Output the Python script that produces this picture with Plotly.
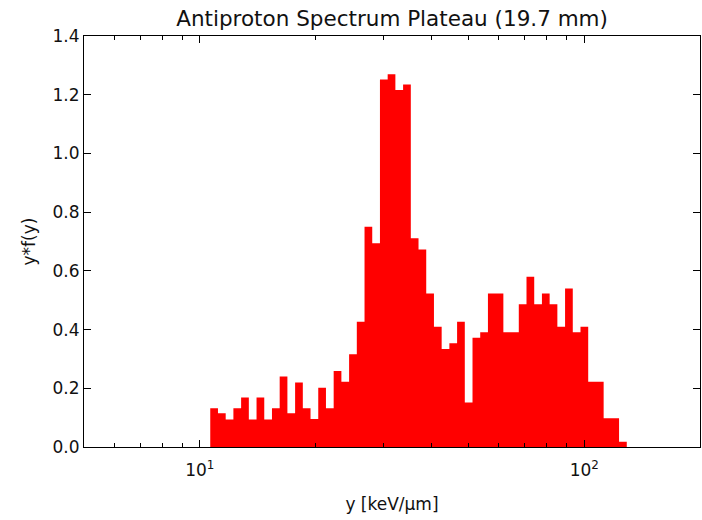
import numpy as np
import plotly.graph_objects as go

# Histogram data (log-spaced bins)
bin_lo = 10.65
bin_hi = 129.0
n_bins = 54
values = [
    0.132, 0.115, 0.094, 0.132, 0.169, 0.094, 0.169, 0.094, 0.132, 0.240,
    0.115, 0.220, 0.132, 0.095, 0.202, 0.132, 0.259, 0.222, 0.316, 0.427,
    0.750, 0.694, 1.252, 1.270, 1.216, 1.235, 0.711, 0.673, 0.523, 0.410,
    0.334, 0.353, 0.427, 0.152, 0.372, 0.391, 0.523, 0.523, 0.391, 0.391,
    0.486, 0.580, 0.486, 0.523, 0.486, 0.410, 0.540, 0.391, 0.410, 0.222,
    0.222, 0.098, 0.098, 0.018,
]
x_tickvals = [10, 100]
x_ticktext = ["10<sup>1</sup>", "10<sup>2</sup>"]
x_minor = [6, 7, 8, 9, 20, 30, 40, 50, 60, 70, 80, 90]
y_ticks = [0.0, 0.2, 0.4, 0.6, 0.8, 1.0, 1.2, 1.4]

edges = np.logspace(np.log10(bin_lo), np.log10(bin_hi), n_bins + 1)
xs = list(edges)
ys = list(values) + [values[-1]]

fig = go.Figure()
fig.add_trace(go.Scatter(
    x=xs, y=ys, mode="lines", line=dict(shape="hv", width=0, color="red"),
    fill="tozeroy", fillcolor="#ff0000", hoverinfo="skip", showlegend=False,
))

font_family = "DejaVu Sans"
axis_common = dict(
    showline=True, linecolor="black", linewidth=1, mirror="ticks",
    ticks="inside", tickcolor="black", ticklen=7, tickwidth=1,
    showgrid=False, zeroline=False,
    tickfont=dict(family=font_family, size=17, color="#111"),
)

fig.update_layout(
    width=702, height=520,
    margin=dict(l=84, r=2, t=36, b=73),
    paper_bgcolor="white", plot_bgcolor="white",
    title=dict(text="Antiproton Spectrum Plateau (19.7 mm)", x=0.5585, xanchor="center",
               yref="container", y=1 - 18 / 520, yanchor="middle",
               font=dict(family=font_family, size=21.5, color="#111")),
    xaxis=dict(
        type="log", range=[np.log10(5), np.log10(200)],
        tickvals=x_tickvals, ticktext=x_ticktext, ticklabelstandoff=8,
        minor=dict(tickvals=x_minor, ticks="inside", ticklen=4, tickcolor="black", showgrid=False),
        title=dict(text="y [keV/μm]", font=dict(family=font_family, size=17, color="#111"), standoff=18),
        automargin=False,
        **axis_common,
    ),
    yaxis=dict(
        range=[0, 1.4], tickvals=y_ticks, tickformat=".1f",
        title=dict(text="y*f(y)", font=dict(family=font_family, size=17, color="#111"), standoff=12),
        automargin=False,
        **axis_common,
    ),
)

fig.write_html("out.html")
